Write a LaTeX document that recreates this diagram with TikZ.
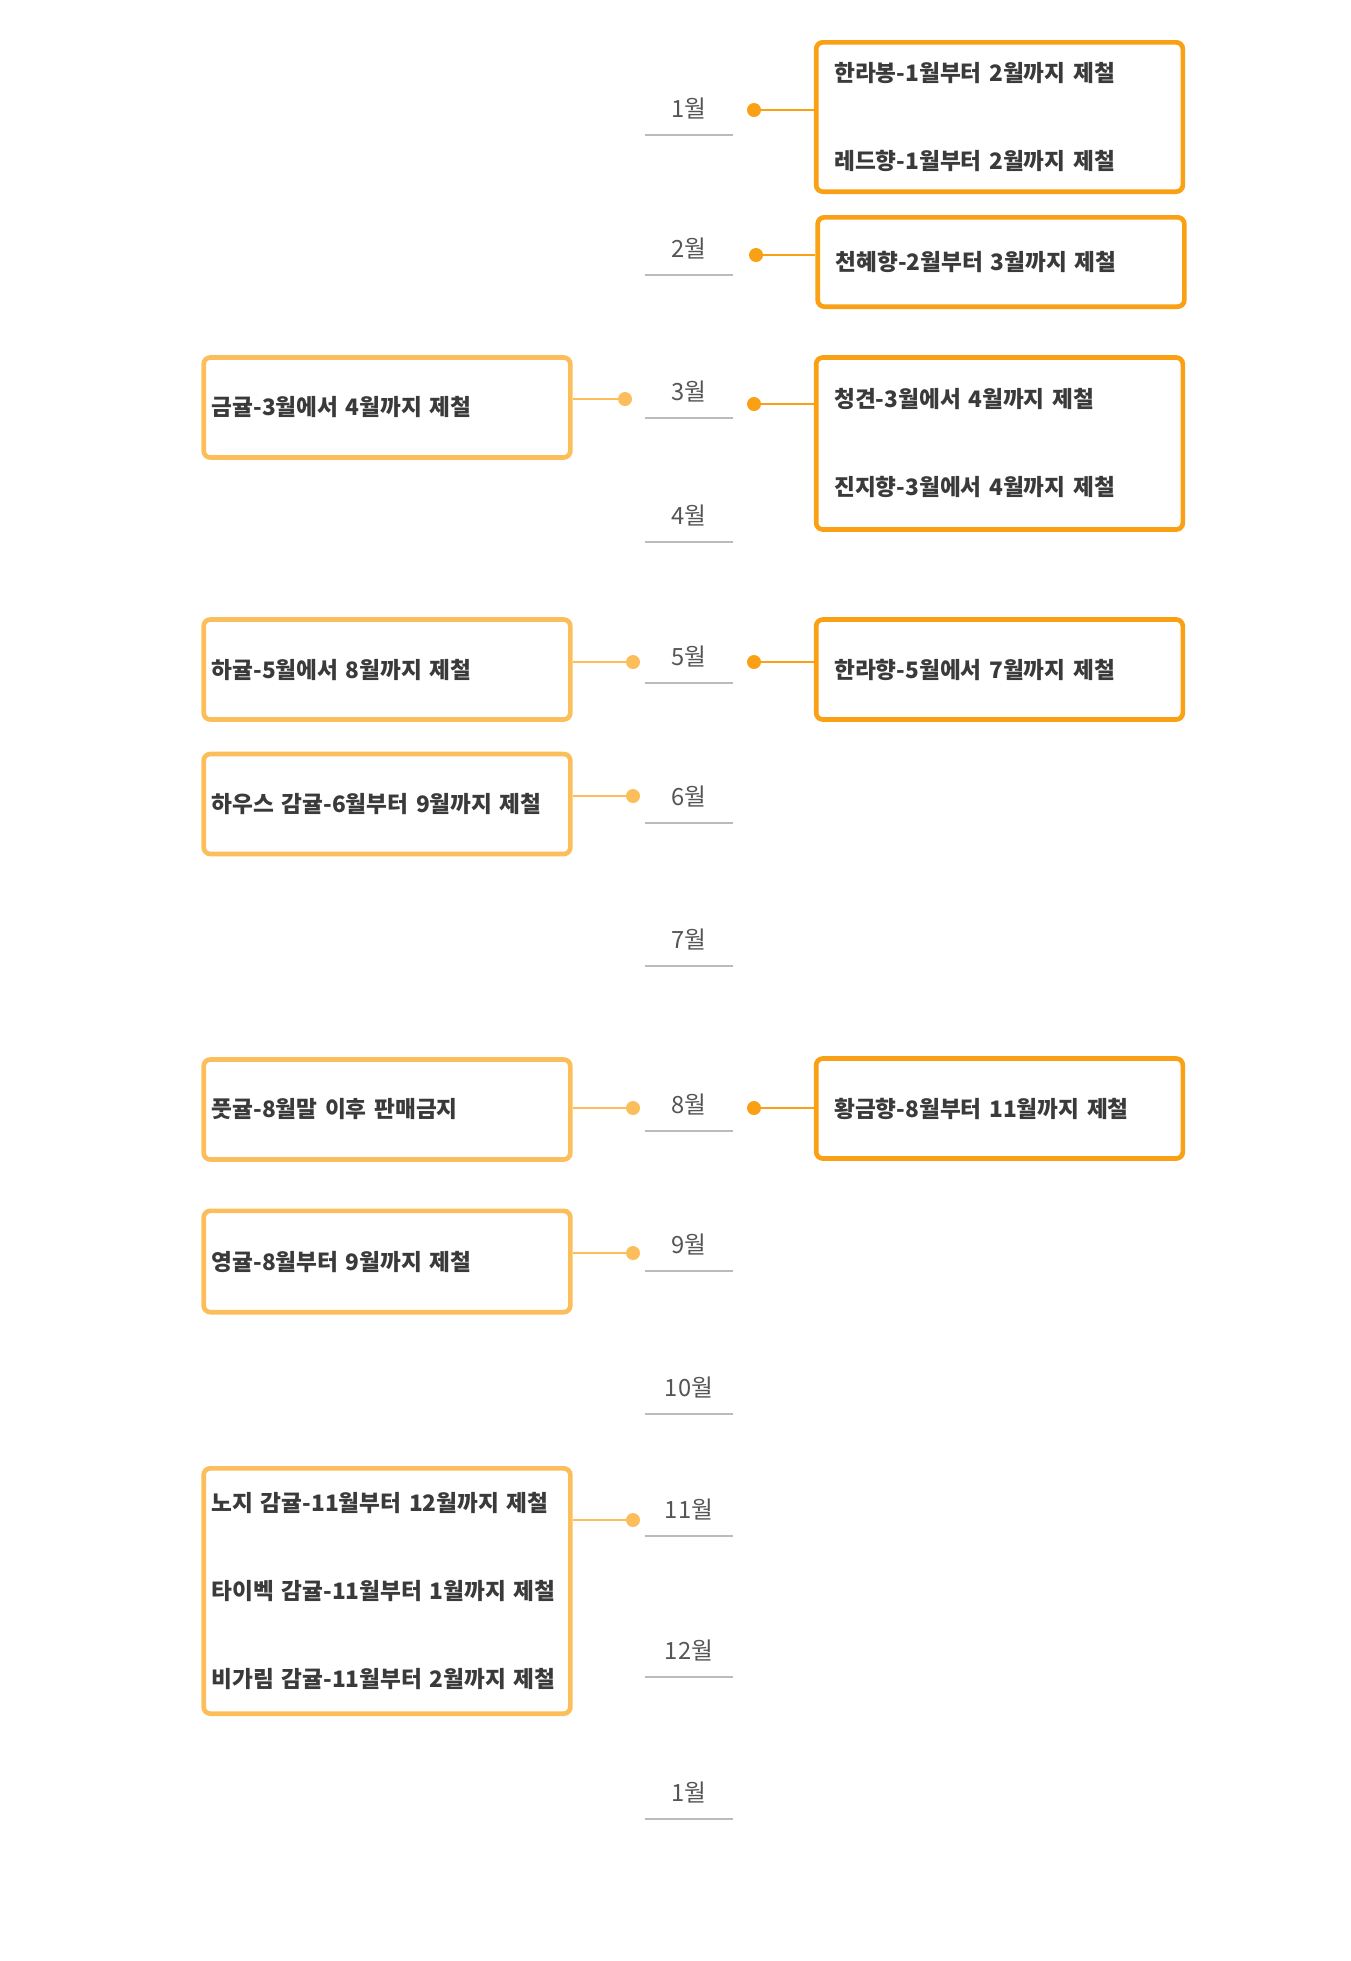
\documentclass[tikz,border=0pt]{standalone}
\usepackage{fontspec}
\setmainfont{Noto Sans CJK KR}
\definecolor{rorange}{HTML}{FAA014}
\definecolor{lorange}{HTML}{FCBE5A}
\definecolor{monthgray}{HTML}{555555}
\definecolor{linegray}{HTML}{BBBBBB}
\definecolor{boxtext}{HTML}{3A3A3A}

\begin{document}
\begin{tikzpicture}[x=0.75pt, y=-0.75pt,
    month/.style={anchor=south, inner sep=0pt, minimum width=66pt, minimum height=39pt,
        text=monthgray, font=\fontsize{17.8}{20}\selectfont,
        append after command={(\tikzlastnode.south west) edge[monthline] (\tikzlastnode.south east)}},
    monthline/.style={draw=linegray, line width=1.5pt},
    rbox/.style={draw=rorange, line width=3.5pt, rounded corners=5pt, minimum width=275pt,
        text width=248pt, inner xsep=13.5pt, align=left, text=boxtext,
        font=\bfseries\fontsize{17}{66}\selectfont},
    lbox/.style={rbox, draw=lorange, text width=263pt, inner xsep=6pt},
    rdot/.style={circle, fill=rorange, inner sep=0pt, minimum size=10.5pt},
    ldot/.style={rdot, fill=lorange},
    rlink/.style={draw=rorange, line width=1.5pt},
    llink/.style={draw=lorange, line width=1.5pt}]
    \useasboundingbox (0,0) rectangle (1351,1961);

    % 월 눈금
    \node[month] (m1) at (689,135) {1월};
    \node[month] (m2) at (689,275) {2월};
    \node[month] (m3) at (689,418) {3월};
    \node[month] (m4) at (689,542) {4월};
    \node[month] (m5) at (689,683) {5월};
    \node[month] (m6) at (689,823) {6월};
    \node[month] (m7) at (689,966) {7월};
    \node[month] (m8) at (689,1131) {8월};
    \node[month] (m9) at (689,1271) {9월};
    \node[month] (m10) at (689,1414) {10월};
    \node[month] (m11) at (689,1536) {11월};
    \node[month] (m12) at (689,1677) {12월};
    \node[month] (m13) at (689,1819) {1월};

    % 오른쪽 품종
    \node[rbox, minimum height=112pt] (hallabong) at (999.5,117)
        {한라봉-1월부터 2월까지 제철\\레드향-1월부터 2월까지 제철};
    \node[rdot] (dhallabong) at (754,110) {};
    \draw[rlink] (dhallabong) -- (dhallabong -| hallabong.west);

    \node[rbox, minimum height=67pt] (cheonhye) at (1001,262)
        {천혜향-2월부터 3월까지 제철};
    \node[rdot] (dcheonhye) at (756,255) {};
    \draw[rlink] (dcheonhye) -- (dcheonhye -| cheonhye.west);

    \node[rbox, minimum height=129pt] (cheonggyeon) at (999.5,443.5)
        {청견-3월에서 4월까지 제철\\진지향-3월에서 4월까지 제철};
    \node[rdot] (dcheonggyeon) at (754,404) {};
    \draw[rlink] (dcheonggyeon) -- (dcheonggyeon -| cheonggyeon.west);

    \node[rbox, minimum height=75pt] (hallahyang) at (999.5,669.5)
        {한라향-5월에서 7월까지 제철};
    \node[rdot] (dhallahyang) at (754,662) {};
    \draw[rlink] (dhallahyang) -- (dhallahyang -| hallahyang.west);

    \node[rbox, minimum height=75pt] (hwanggeum) at (999.5,1108.5)
        {황금향-8월부터 11월까지 제철};
    \node[rdot] (dhwanggeum) at (754,1108) {};
    \draw[rlink] (dhwanggeum) -- (dhwanggeum -| hwanggeum.west);

    % 왼쪽 품종
    \node[lbox, minimum height=75pt] (geumgyul) at (387,407.5)
        {금귤-3월에서 4월까지 제철};
    \node[ldot] (dgeumgyul) at (625,399) {};
    \draw[llink] (dgeumgyul -| geumgyul.east) -- (dgeumgyul);

    \node[lbox, minimum height=75pt] (hagyul) at (387,669.5)
        {하귤-5월에서 8월까지 제철};
    \node[ldot] (dhagyul) at (633,662) {};
    \draw[llink] (dhagyul -| hagyul.east) -- (dhagyul);

    \node[lbox, minimum height=75pt] (house) at (387,804)
        {하우스 감귤-6월부터 9월까지 제철};
    \node[ldot] (dhouse) at (633,796) {};
    \draw[llink] (dhouse -| house.east) -- (dhouse);

    \node[lbox, minimum height=75pt] (putgyul) at (387,1109.5)
        {풋귤-8월말 이후 판매금지};
    \node[ldot] (dputgyul) at (633,1108) {};
    \draw[llink] (dputgyul -| putgyul.east) -- (dputgyul);

    \node[lbox, minimum height=76pt] (yeonggyul) at (387,1261.5)
        {영귤-8월부터 9월까지 제철};
    \node[ldot] (dyeonggyul) at (633,1253) {};
    \draw[llink] (dyeonggyul -| yeonggyul.east) -- (dyeonggyul);

    \node[lbox, minimum height=184pt] (noji) at (387,1591)
        {노지 감귤-11월부터 12월까지 제철\\타이벡 감귤-11월부터 1월까지 제철\\비가림 감귤-11월부터 2월까지 제철};
    \node[ldot] (dnoji) at (633,1520) {};
    \draw[llink] (dnoji -| noji.east) -- (dnoji);
\end{tikzpicture}
\end{document}
